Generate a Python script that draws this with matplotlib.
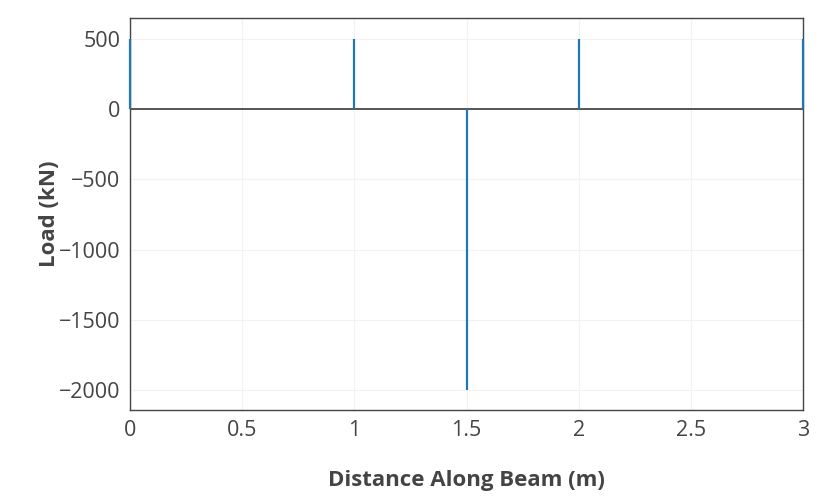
import matplotlib.pyplot as plt
import numpy as np

# point loads along the beam
positions = [0, 1, 1.5, 2, 3]
loads = [500, 500, -2000, 500, 500]

xticks = [0, 0.5, 1, 1.5, 2, 2.5, 3]
xticklabels = ['0', '0.5', '1', '1.5', '2', '2.5', '3']
yticks = [500, 0, -500, -1000, -1500, -2000]

plt.rcParams['font.family'] = ['Open Sans', 'DejaVu Sans']
plt.rcParams['axes.unicode_minus'] = True

fig = plt.figure(figsize=(8.33, 5), dpi=100)
ax = fig.add_axes([130 / 833, 90 / 500, 673 / 833, 392 / 500])

ax.set_xlim(0, 3)
ax.set_ylim(-2142, 648)

ax.set_xticks(xticks)
ax.set_xticklabels(xticklabels)
ax.set_yticks(yticks)
ax.set_yticklabels([str(v).replace('-', '\u2212') for v in yticks])

ax.grid(True, color='#f2f2f2', linewidth=0.8, zorder=0)
ax.axhline(0, color='#555555', linewidth=1.4, zorder=2)
ax.vlines(positions, 0, loads, color='#1f77b4', linewidth=1.6, zorder=3, clip_on=False)

for s in ax.spines.values():
    s.set_color('#444444')
    s.set_linewidth(1.0)

ax.tick_params(length=0, labelsize=15.5, colors='#444444', pad=7)
ax.set_xlabel('Distance Along Beam (m)', fontsize=16, fontweight='bold', color='#444444', labelpad=21)
ax.set_ylabel('Load (kN)', fontsize=16, fontweight='bold', color='#444444', labelpad=-1)

fig.savefig('out.png', dpi=100)
